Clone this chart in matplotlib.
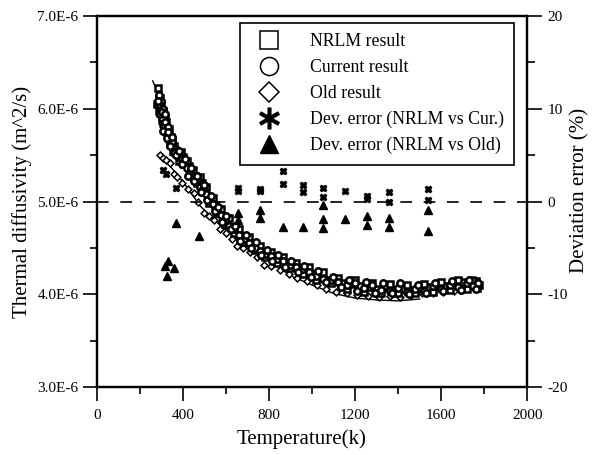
import numpy as np
import matplotlib
matplotlib.use("Agg")
import matplotlib.pyplot as plt
from matplotlib.lines import Line2D
from matplotlib.ticker import MultipleLocator, FuncFormatter

plt.rcParams['font.family'] = ['Liberation Serif', 'DejaVu Serif']
plt.rcParams['axes.unicode_minus'] = False

# ---- data (diffusivity in 1E-6 m^2/s, deviation in %) ----
nrlm_t = [283, 287, 290, 294, 298, 303, 308, 313, 318, 324, 330, 336, 342, 350, 358,
          372, 385, 398, 410, 425, 440, 455, 470, 485, 500, 515, 530, 548, 565, 585,
          605, 625, 648, 670, 695, 720, 745, 770, 795, 820, 850, 880, 910, 940, 970,
          1000, 1035, 1070, 1105, 1140, 1180, 1220, 1260, 1300, 1340, 1380, 1420, 1460,
          1500, 1540, 1580, 1620, 1660, 1700, 1730, 1760, 1775,
          280, 285, 292, 300, 306, 311, 320, 327, 333, 339, 347, 354, 364, 378, 390,
          404, 416, 432, 447, 462, 477, 492, 507, 522, 538, 556, 574, 595, 615, 636,
          658, 682, 706, 732, 757, 782, 808, 835, 865, 895, 925, 955, 985, 1018, 1052,
          1088, 1122, 1160, 1200, 1240, 1280, 1320, 1360, 1400, 1440, 1480, 1520, 1560,
          1600, 1640, 1680, 1720, 1745, 1768]
nrlm_d = [6.22, 6.10, 6.02, 5.95, 6.05, 5.92, 5.85, 5.90, 5.80, 5.76, 5.72, 5.68, 5.70,
          5.62, 5.60, 5.52, 5.50, 5.48, 5.42, 5.38, 5.30, 5.28, 5.22, 5.20, 5.12, 5.05,
          5.00, 4.96, 4.88, 4.82, 4.78, 4.72, 4.67, 4.62, 4.57, 4.52, 4.49, 4.46, 4.42,
          4.40, 4.37, 4.34, 4.31, 4.28, 4.26, 4.22, 4.19, 4.16, 4.14, 4.12, 4.11, 4.09,
          4.08, 4.06, 4.09, 4.05, 4.06, 4.05, 4.07, 4.08, 4.10, 4.09, 4.12, 4.13, 4.11,
          4.14, 4.10,
          6.05, 5.98, 6.12, 5.88, 5.98, 5.78, 5.86, 5.70, 5.78, 5.62, 5.66, 5.55, 5.56,
          5.44, 5.53, 5.40, 5.44, 5.30, 5.34, 5.20, 5.26, 5.12, 5.16, 4.98, 5.04, 4.88,
          4.92, 4.76, 4.82, 4.66, 4.70, 4.56, 4.62, 4.48, 4.52, 4.40, 4.46, 4.34, 4.40,
          4.28, 4.34, 4.22, 4.30, 4.16, 4.24, 4.12, 4.18, 4.06, 4.15, 4.03, 4.12, 4.02,
          4.11, 4.01, 4.10, 4.02, 4.11, 4.03, 4.13, 4.05, 4.15, 4.06, 4.16, 4.07]

cur_t = [285, 289, 293, 296, 300, 305, 310, 316, 321, 327, 333, 340, 346, 355, 365,
         378, 392, 405, 418, 432, 447, 462, 478, 493, 508, 522, 540, 556, 575, 595,
         615, 637, 660, 682, 708, 732, 758, 782, 808, 835, 865, 895, 925, 955, 985,
         1018, 1052, 1088, 1122, 1160, 1200, 1240, 1280, 1320, 1360, 1400, 1440, 1480,
         1520, 1560, 1600, 1640, 1680, 1720, 1750, 1770,
         282, 291, 299, 307, 314, 323, 331, 338, 348, 357, 368, 382, 395, 408, 422,
         436, 452, 466, 482, 497, 512, 528, 546, 562, 580, 600, 620, 642, 665, 690,
         714, 740, 764, 790, 815, 842, 872, 902, 932, 962, 995, 1028, 1062, 1096, 1132,
         1170, 1210, 1250, 1290, 1330, 1370, 1410, 1450, 1490, 1530, 1570, 1610, 1650,
         1690, 1730, 1760]
cur_d = [6.15, 6.05, 5.98, 6.08, 5.90, 6.00, 5.82, 5.86, 5.74, 5.80, 5.66, 5.72, 5.64,
         5.58, 5.55, 5.48, 5.46, 5.40, 5.36, 5.32, 5.26, 5.24, 5.16, 5.14, 5.08, 5.02,
         4.97, 4.90, 4.86, 4.80, 4.74, 4.70, 4.64, 4.60, 4.55, 4.50, 4.47, 4.44, 4.41,
         4.38, 4.36, 4.32, 4.30, 4.27, 4.24, 4.20, 4.17, 4.15, 4.13, 4.10, 4.12, 4.07,
         4.10, 4.05, 4.04, 4.07, 4.03, 4.06, 4.04, 4.09, 4.06, 4.10, 4.08, 4.12, 4.09,
         4.12,
         6.08, 5.94, 5.97, 5.76, 5.94, 5.68, 5.75, 5.60, 5.70, 5.52, 5.50, 5.54, 5.40,
         5.46, 5.28, 5.36, 5.22, 5.28, 5.10, 5.18, 5.02, 5.06, 4.90, 4.94, 4.78, 4.84,
         4.70, 4.74, 4.58, 4.64, 4.50, 4.56, 4.42, 4.48, 4.36, 4.42, 4.30, 4.36, 4.24,
         4.31, 4.19, 4.25, 4.13, 4.19, 4.08, 4.16, 4.04, 4.13, 4.01, 4.12, 4.02, 4.12,
         4.00, 4.10, 4.02, 4.12, 4.04, 4.14, 4.05, 4.15, 4.06]

old_t = [292, 305, 318, 339, 355, 372, 395, 420, 448, 470, 495, 520, 545, 573, 600,
         625, 651, 680, 710, 745, 776, 810, 850, 890, 930, 975, 1020, 1065, 1110, 1160,
         1210, 1260, 1310, 1360, 1410, 1460, 1510, 1560, 1610, 1660]
old_d = [5.50, 5.47, 5.45, 5.42, 5.30, 5.26, 5.20, 5.14, 5.09, 5.00, 4.88, 4.84, 4.80,
         4.70, 4.66, 4.60, 4.52, 4.50, 4.46, 4.40, 4.32, 4.31, 4.26, 4.22, 4.18, 4.14,
         4.10, 4.06, 4.03, 4.01, 3.99, 3.98, 3.97, 3.98, 3.97, 3.99, 4.01, 4.02, 4.03,
         4.04]

fit_cur_t = [258, 280, 300, 330, 360, 400, 450, 500, 560, 620, 700, 800, 900, 1000,
             1100, 1200, 1300, 1400, 1500, 1600, 1700, 1780]
fit_cur_d = [6.30, 6.18, 6.02, 5.80, 5.62, 5.47, 5.30, 5.13, 4.92, 4.76, 4.56, 4.42,
             4.32, 4.23, 4.15, 4.10, 4.08, 4.07, 4.07, 4.08, 4.10, 4.12]

fit_old_t = [292, 340, 400, 480, 560, 640, 720, 800, 900, 1000, 1100, 1200, 1300,
             1400, 1500]
fit_old_d = [5.50, 5.38, 5.21, 4.95, 4.77, 4.61, 4.48, 4.36, 4.20, 4.10, 4.01, 3.96,
             3.94, 3.93, 3.95]

dev_cur_t = [307, 320, 368, 656, 656, 757, 757, 862, 862, 958, 958, 1049, 1049, 1153,
             1256, 1256, 1358, 1358, 1540, 1540]
dev_cur = [3.4, 3.0, 1.5, 1.5, 1.1, 1.4, 1.1, 3.3, 1.9, 1.8, 1.0, 1.5, 0.5, 1.1,
           0.65, 0.3, 1.0, -0.1, 1.3, 0.2]

dev_old_t = [316, 324, 331, 355, 367, 472, 656, 656, 757, 757, 862, 958, 1049, 1049,
             1049, 1153, 1256, 1256, 1358, 1358, 1540, 1540]
dev_old = [-6.9, -8.0, -6.4, -7.2, -2.3, -3.7, -1.2, -2.0, -0.9, -1.8, -2.7, -2.7,
           -0.4, -1.9, -2.8, -1.9, -1.6, -2.5, -1.8, -2.7, -0.9, -3.2]

labels = ["NRLM result", "Current result", "Old result",
          "Dev. error (NRLM vs Cur.)", "Dev. error (NRLM vs Old)"]

fig = plt.figure(figsize=(5.93, 4.55), dpi=100)
ax = fig.add_axes([0.164, 0.149, 0.725, 0.816])
ax2 = ax.twinx()

ax.plot(fit_cur_t, fit_cur_d, color="black", lw=1.0)
ax.plot(fit_old_t, fit_old_d, color="black", lw=1.0)
ax.plot(old_t, old_d, ls="none", marker="D", ms=3.5, mfc="white", mec="black", mew=1.1)
ax.plot(nrlm_t, nrlm_d, ls="none", marker="s", ms=5.0, mfc="white", mec="black", mew=1.8)
ax.plot(cur_t, cur_d, ls="none", marker="o", ms=4.6, mfc="white", mec="black", mew=1.8)

ax2.axhline(0, color="black", lw=1.2, dashes=(7, 7))
ax2.plot(dev_cur_t, dev_cur, ls="none", marker="X", ms=4.5, color="black")
ax2.plot(dev_old_t, dev_old, ls="none", marker="^", ms=5.5, color="black")

ax.set_xlim(0, 2000)
ax.set_ylim(3.0, 7.0)
ax2.set_ylim(-20, 20)

ax.xaxis.set_major_locator(MultipleLocator(400))
ax.xaxis.set_minor_locator(MultipleLocator(200))
ax.yaxis.set_major_locator(MultipleLocator(1.0))
ax.yaxis.set_minor_locator(MultipleLocator(0.5))
ax.yaxis.set_major_formatter(FuncFormatter(lambda v, p: "%.1fE-6" % v))
ax2.yaxis.set_major_locator(MultipleLocator(10))
ax2.yaxis.set_minor_locator(MultipleLocator(5))

for a in (ax, ax2):
    for s in a.spines.values():
        s.set_linewidth(1.6)
ax.tick_params(which="major", direction="out", length=10, width=1.2, labelsize=11,
               top=False, right=False)
ax.tick_params(axis="x", which="major", pad=6)
ax.tick_params(which="minor", direction="out", length=5, width=1.2, top=False, right=False)
ax2.tick_params(which="major", direction="out", length=11, width=1.2, labelsize=11)
ax2.tick_params(which="minor", direction="out", length=6, width=1.2)

ax.set_xlabel("Temperature(k)", fontsize=15)
ax.xaxis.set_label_coords(0.476, -0.112)
ax.set_ylabel("Thermal diffusivity (m^2/s)", fontsize=15, labelpad=4)
ax2.set_ylabel("Deviation error (%)", fontsize=15)
ax2.yaxis.set_label_coords(1.100, 0.53)

handles = [
    Line2D([], [], ls="none", marker="s", ms=13, mfc="white", mec="black", mew=1.1),
    Line2D([], [], ls="none", marker="o", ms=13, mfc="white", mec="black", mew=1.1),
    Line2D([], [], ls="none", marker="D", ms=10, mfc="white", mec="black", mew=1.1),
    Line2D([], [], ls="none", marker="$\u2217$", ms=15, color="black"),
    Line2D([], [], ls="none", marker="^", ms=13, color="black"),
]
leg = ax2.legend(handles, labels, loc="upper left", bbox_to_anchor=(0.333, 0.982),
                 borderaxespad=0, fontsize=12.8, frameon=True, fancybox=False,
                 edgecolor="black", framealpha=1, labelspacing=0.5, handletextpad=1.3,
                 borderpad=0.6, handlelength=2.0)
leg.get_frame().set_linewidth(1.2)

fig.savefig("out.png", dpi=100)
